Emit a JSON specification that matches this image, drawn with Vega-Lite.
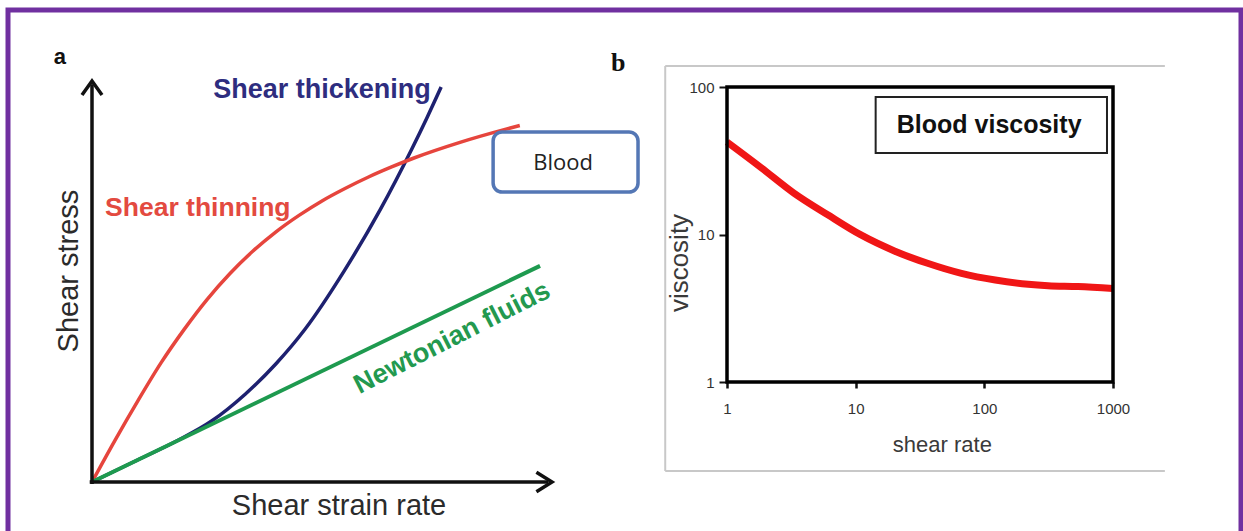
{
  "$schema": "https://vega.github.io/schema/vega-lite/v6.json",
  "width": 1233,
  "height": 527,
  "autosize": {"type": "none"},
  "padding": {"left": 8, "top": 10, "right": 2, "bottom": -6},
  "background": "white",
  "config": {"view": {"stroke": "#7030a0", "strokeWidth": 5}},
  "datasets": {
    "thickening": [
      {"x": 0, "y": 0}, {"x": 0.9, "y": 0.5}, {"x": 1.87, "y": 1.04}, {"x": 2.6, "y": 1.52},
      {"x": 3.33, "y": 2.19}, {"x": 4.0, "y": 2.95}, {"x": 4.63, "y": 3.81}, {"x": 5.48, "y": 5.26},
      {"x": 6.26, "y": 6.78}, {"x": 6.95, "y": 8.3}, {"x": 7.28, "y": 9.08}, {"x": 7.59, "y": 9.85}
    ],
    "thinning": [
      {"x": 0, "y": 0}, {"x": 0.5, "y": 1.04}, {"x": 1, "y": 2.03}, {"x": 1.5, "y": 2.97},
      {"x": 2, "y": 3.8}, {"x": 2.5, "y": 4.55}, {"x": 3, "y": 5.2}, {"x": 3.5, "y": 5.76},
      {"x": 4, "y": 6.24}, {"x": 4.5, "y": 6.65}, {"x": 5, "y": 7.01}, {"x": 5.5, "y": 7.32},
      {"x": 6, "y": 7.6}, {"x": 6.5, "y": 7.85}, {"x": 7, "y": 8.08}, {"x": 8, "y": 8.47},
      {"x": 9, "y": 8.8}, {"x": 9.3, "y": 8.89}
    ],
    "newtonian": [{"x": 0, "y": 0}, {"x": 9.74, "y": 5.39}],
    "axesA": [
      {"x": 0, "y": -0.05, "x2": 0, "y2": 9.92},
      {"x": -0.05, "y": 0, "x2": 9.92, "y2": 0}
    ],
    "blood": [
      {"x": 1, "y": 42.4}, {"x": 1.834, "y": 28.5}, {"x": 3.31, "y": 19.1}, {"x": 6.07, "y": 13.6},
      {"x": 10.9, "y": 9.97}, {"x": 20, "y": 7.74}, {"x": 36.2, "y": 6.38}, {"x": 66.4, "y": 5.45},
      {"x": 121.7, "y": 4.91}, {"x": 219, "y": 4.6}, {"x": 313, "y": 4.5}, {"x": 535, "y": 4.44},
      {"x": 1000, "y": 4.3}
    ]
  },
  "layer": [
    {
      "encoding": {
        "x": {"field": "x", "type": "quantitative", "axis": null, "scale": {"domain": [0, 10], "range": [84, 544]}},
        "y": {"field": "y", "type": "quantitative", "axis": null, "scale": {"domain": [0, 10], "range": [472, 71]}}
      },
      "layer": [
        {
          "data": {"name": "thickening"},
          "mark": {"type": "line", "interpolate": "monotone", "stroke": "#1e2170", "strokeWidth": 3.5}
        },
        {
          "data": {"name": "thinning"},
          "mark": {"type": "line", "interpolate": "monotone", "stroke": "#e6453d", "strokeWidth": 3.5}
        },
        {
          "data": {"name": "newtonian"},
          "mark": {"type": "line", "stroke": "#1e9a4f", "strokeWidth": 4}
        },
        {
          "data": {"name": "axesA"},
          "mark": {"type": "rule", "stroke": "#111111", "strokeWidth": 3.5},
          "encoding": {"x2": {"field": "x2"}, "y2": {"field": "y2"}}
        },
        {
          "data": {"values": [{"x": 0, "y": 10}]},
          "mark": {"type": "point", "shape": "M-1,1.4L0,0L1,1.4", "filled": false, "stroke": "#111111", "strokeWidth": 3.5, "size": 400, "opacity": 1, "strokeJoin": "miter"}
        },
        {
          "data": {"values": [{"x": 10, "y": 0}]},
          "mark": {"type": "point", "shape": "M-1.6,-1L0,0L-1.6,1", "filled": false, "stroke": "#111111", "strokeWidth": 3.5, "size": 380, "opacity": 1, "strokeJoin": "miter"}
        },
        {
          "data": {"values": [{"label": "a", "x": -0.7, "y": 10.6}]},
          "mark": {"type": "text", "font": "Liberation Sans", "fontWeight": "bold", "fontSize": 22, "color": "#111111"},
          "encoding": {"text": {"field": "label"}}
        },
        {
          "data": {"values": [{"label": "Shear thickening", "x": 5.0, "y": 9.78}]},
          "mark": {"type": "text", "font": "Liberation Sans", "fontWeight": "bold", "fontSize": 27, "color": "#2e2d7f"},
          "encoding": {"text": {"field": "label"}}
        },
        {
          "data": {"values": [{"label": "Shear thinning", "x": 2.3, "y": 6.83}]},
          "mark": {"type": "text", "font": "Liberation Sans", "fontWeight": "bold", "fontSize": 26.5, "color": "#e34a40"},
          "encoding": {"text": {"field": "label"}}
        },
        {
          "data": {"values": [{"label": "Newtonian fluids", "x": 7.83, "y": 3.59}]},
          "mark": {"type": "text", "font": "Liberation Sans", "fontWeight": "bold", "fontSize": 27, "color": "#23994f", "angle": 333},
          "encoding": {"text": {"field": "label"}}
        },
        {
          "data": {"values": [{"label": "Shear stress", "x": -0.5, "y": 5.26}]},
          "mark": {"type": "text", "font": "Liberation Sans", "fontSize": 29, "color": "#2b2b2b", "angle": 270},
          "encoding": {"text": {"field": "label"}}
        },
        {
          "data": {"values": [{"label": "Shear strain rate", "x": 5.37, "y": -0.6}]},
          "mark": {"type": "text", "font": "Liberation Sans", "fontSize": 29, "color": "#2b2b2b"},
          "encoding": {"text": {"field": "label"}}
        },
        {
          "data": {"values": [{"x": 8.72, "x2": 11.87, "y": 8.73, "y2": 7.23}]},
          "mark": {"type": "rect", "fill": "white", "stroke": "#5477b5", "strokeWidth": 3.5, "cornerRadius": 9},
          "encoding": {"x2": {"field": "x2"}, "y2": {"field": "y2"}}
        },
        {
          "data": {"values": [{"label": "Blood", "x": 10.24, "y": 7.96}]},
          "mark": {"type": "text", "font": "Open Sans", "fontSize": 22, "color": "#222222"},
          "encoding": {"text": {"field": "label"}}
        }
      ]
    },
    {
      "encoding": {
        "x": {"field": "x", "type": "quantitative",
              "scale": {"type": "log", "domain": [1, 1000], "range": [719, 1105]},
              "axis": {"orient": "bottom", "offset": -155, "values": [1, 10, 100, 1000], "format": "d", "title": null, "domain": false,
                       "ticks": true, "tickSize": 6, "tickWidth": 2.5, "tickColor": "#111111", "grid": false,
                       "labelFont": "Liberation Sans", "labelFontSize": 15, "labelColor": "#333333",
                       "labelPadding": 13, "labelFlush": false, "labelOverlap": false}},
        "y": {"field": "y", "type": "quantitative",
              "scale": {"type": "log", "domain": [1, 100], "range": [372, 77]},
              "axis": {"orient": "left", "offset": -719, "values": [1, 10, 100], "format": "d", "title": null, "domain": false,
                       "ticks": true, "tickSize": 8, "tickWidth": 2, "tickColor": "#111111", "grid": false,
                       "labelFont": "Liberation Sans", "labelFontSize": 15, "labelColor": "#333333",
                       "labelPadding": 5, "labelFlush": false, "labelOverlap": false}}
      },
      "layer": [
        {
          "data": {"values": [
            {"x": 0.331, "x2": 2530, "y": 138.8, "y2": 138.8},
            {"x": 0.331, "x2": 0.331, "y": 138.8, "y2": 0.249},
            {"x": 0.331, "x2": 2530, "y": 0.249, "y2": 0.249}
          ]},
          "mark": {"type": "rule", "stroke": "#c8c8c8", "strokeWidth": 2},
          "encoding": {"x2": {"field": "x2"}, "y2": {"field": "y2"}}
        },
        {
          "data": {"name": "blood"},
          "mark": {"type": "line", "interpolate": "monotone", "stroke": "#f01616", "strokeWidth": 7}
        },
        {
          "data": {"values": [{"x": 1, "x2": 1000, "y": 1, "y2": 100}]},
          "mark": {"type": "rect", "fill": "white", "fillOpacity": 0, "stroke": "#000000", "strokeWidth": 3.5},
          "encoding": {"x2": {"field": "x2"}, "y2": {"field": "y2"}}
        },
        {
          "data": {"values": [{"x": 14.3, "x2": 898, "y": 85.5, "y2": 35.7}]},
          "mark": {"type": "rect", "fill": "white", "stroke": "#222222", "strokeWidth": 2},
          "encoding": {"x2": {"field": "x2"}, "y2": {"field": "y2"}}
        },
        {
          "data": {"values": [{"label": "Blood viscosity", "x": 109, "y": 55.3}]},
          "mark": {"type": "text", "font": "Liberation Sans", "fontWeight": "bold", "fontSize": 25, "color": "#111111"},
          "encoding": {"text": {"field": "label"}}
        },
        {
          "data": {"values": [{"label": "shear rate", "x": 47.2, "y": 0.374}]},
          "mark": {"type": "text", "font": "Liberation Sans", "fontSize": 22, "color": "#3a3a3a"},
          "encoding": {"text": {"field": "label"}}
        },
        {
          "data": {"values": [{"label": "viscosity", "x": 0.432, "y": 6.41}]},
          "mark": {"type": "text", "font": "Liberation Sans", "fontSize": 26, "color": "#3a3a3a", "angle": 270},
          "encoding": {"text": {"field": "label"}}
        },
        {
          "data": {"values": [{"label": "b", "x": 0.143, "y": 145.5}]},
          "mark": {"type": "text", "font": "Liberation Serif", "fontWeight": "bold", "fontSize": 26, "color": "#111111"},
          "encoding": {"text": {"field": "label"}}
        }
      ]
    }
  ],
  "resolve": {"scale": {"x": "independent", "y": "independent"}, "axis": {"x": "independent", "y": "independent"}}
}
